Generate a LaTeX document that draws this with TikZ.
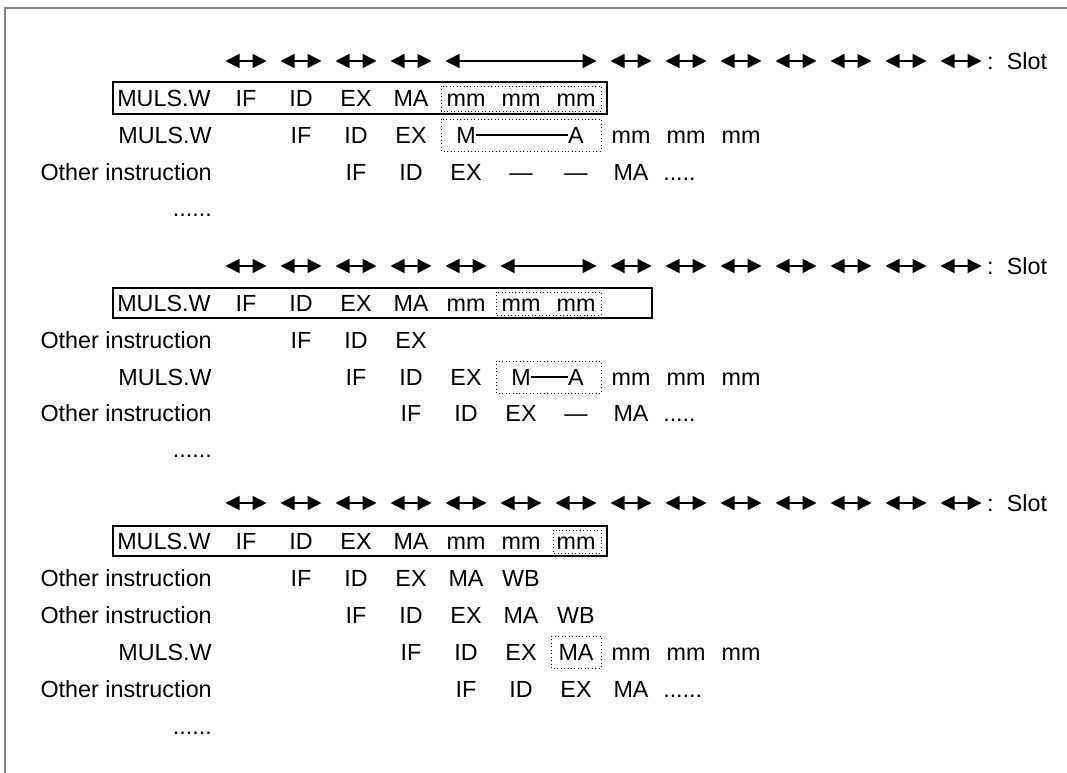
\documentclass[tikz,border=0pt]{standalone}
\usepackage{fontspec}
\setmainfont{Liberation Sans}
\usetikzlibrary{arrows.meta,positioning}
\definecolor{rim}{RGB}{130,130,130}
\newcommand{\slotx}[1]{(246+55*(#1))}
\tikzset{
  stage/.style={inner sep=0pt, text height=12.4pt, text depth=0pt,
                font=\fontsize{17.5}{21}\selectfont},
  insn/.style={stage, anchor=east},
  first/.style={stage, anchor=west},
  slot/.style={{Triangle[length=10.5pt,width=10.5pt]}-{Triangle[length=10.5pt,width=10.5pt]},
               line width=1.1pt},
  runbox/.style={draw, line width=0.8pt},
  waitbox/.style={draw, dotted, line width=0.6pt},
  tie/.style={line width=1.1pt},
  rimline/.style={draw=rim, line width=1.1pt},
}
\begin{document}
\begin{tikzpicture}[x=0.75pt,y=-0.75pt]
\useasboundingbox (0,0) rectangle (1067,773);
\draw[rimline] (5,773) -- (5,8) -- (1067,8);

% first case: three mm cycles
\foreach \a/\b [count=\k] in {0/0,1/1,2/2,3/3,4/6,7/7,8/8,9/9,10/10,11/11,12/12,13/13}{
  \coordinate (pa\k) at ({\slotx{\a}-20.5},61);
  \coordinate (qa\k) at ({\slotx{\b}+20.5},61);
  \draw[slot] (pa\k) -- (qa\k);
}
\node[stage,right=4pt of qa12] (aslot) {:\hspace{10pt}Slot};

\node[first] (a0l) at (117,98) {MULS.W};
\foreach \t/\s in {IF/0,ID/1,EX/2,MA/3,mm/4,mm/5,mm/6}
  \node[stage] (a0-\s) at ({\slotx{\s}},98) {\t};
\draw[waitbox] ({\slotx{4}-25},86) rectangle ({\slotx{6}+25},111);
\draw[runbox] (113,82) rectangle (607,114);

\node[insn] (a1l) at (212,135) {MULS.W};
\foreach \t/\s in {IF/1,ID/2,EX/3,M/4,A/6,mm/7,mm/8,mm/9}
  \node[stage] (a1-\s) at ({\slotx{\s}},135) {\t};
\draw[tie] (a1-4.east) -- (a1-6.west);
\draw[waitbox] ({\slotx{4}-25},119) rectangle ({\slotx{6}+25},151);

\node[insn] (a2l) at (212,172) {Other instruction};
\foreach \t/\s in {IF/2,ID/3,EX/4,—/5,—/6,MA/7}
  \node[stage] (a2-\s) at ({\slotx{\s}},172) {\t};
\node[first] (a2d) at (663,172) {.....};

\node[insn] (a3l) at (212,208) {......};

% second case: two mm cycles
\foreach \a/\b [count=\k] in {0/0,1/1,2/2,3/3,4/4,5/6,7/7,8/8,9/9,10/10,11/11,12/12,13/13}{
  \coordinate (pb\k) at ({\slotx{\a}-20.5},266);
  \coordinate (qb\k) at ({\slotx{\b}+20.5},266);
  \draw[slot] (pb\k) -- (qb\k);
}
\node[stage,right=4pt of qb13] (bslot) {:\hspace{10pt}Slot};

\node[first] (b0l) at (117,303) {MULS.W};
\foreach \t/\s in {IF/0,ID/1,EX/2,MA/3,mm/4,mm/5,mm/6}
  \node[stage] (b0-\s) at ({\slotx{\s}},303) {\t};
\draw[waitbox] ({\slotx{5}-25},292) rectangle ({\slotx{6}+25},315);
\draw[runbox] (113,288) rectangle (652,318);

\node[insn] (b1l) at (212,340) {Other instruction};
\foreach \t/\s in {IF/1,ID/2,EX/3}
  \node[stage] (b1-\s) at ({\slotx{\s}},340) {\t};

\node[insn] (b2l) at (212,377) {MULS.W};
\foreach \t/\s in {IF/2,ID/3,EX/4,M/5,A/6,mm/7,mm/8,mm/9}
  \node[stage] (b2-\s) at ({\slotx{\s}},377) {\t};
\draw[tie] (b2-5.east) -- (b2-6.west);
\draw[waitbox] ({\slotx{5}-25},361) rectangle ({\slotx{6}+25},393);

\node[insn] (b3l) at (212,413) {Other instruction};
\foreach \t/\s in {IF/3,ID/4,EX/5,—/6,MA/7}
  \node[stage] (b3-\s) at ({\slotx{\s}},413) {\t};
\node[first] (b3d) at (663,413) {.....};

\node[insn] (b4l) at (212,449) {......};

% third case: one mm cycle
\foreach \s [count=\k] in {0,...,13}{
  \coordinate (pc\k) at ({\slotx{\s}-20.5},503);
  \coordinate (qc\k) at ({\slotx{\s}+20.5},503);
  \draw[slot] (pc\k) -- (qc\k);
}
\node[stage,right=4pt of qc14] (cslot) {:\hspace{10pt}Slot};

\node[first] (c0l) at (117,541) {MULS.W};
\foreach \t/\s in {IF/0,ID/1,EX/2,MA/3,mm/4,mm/5,mm/6}
  \node[stage] (c0-\s) at ({\slotx{\s}},541) {\t};
\draw[waitbox] ({\slotx{6}-23},530) rectangle ({\slotx{6}+25},553);
\draw[runbox] (113,526) rectangle (607,556);

\node[insn] (c1l) at (212,578) {Other instruction};
\foreach \t/\s in {IF/1,ID/2,EX/3,MA/4,WB/5}
  \node[stage] (c1-\s) at ({\slotx{\s}},578) {\t};

\node[insn] (c2l) at (212,615) {Other instruction};
\foreach \t/\s in {IF/2,ID/3,EX/4,MA/5,WB/6}
  \node[stage] (c2-\s) at ({\slotx{\s}},615) {\t};

\node[insn] (c3l) at (212,652) {MULS.W};
\foreach \t/\s in {IF/3,ID/4,EX/5,MA/6,mm/7,mm/8,mm/9}
  \node[stage] (c3-\s) at ({\slotx{\s}},652) {\t};
\draw[waitbox] ({\slotx{6}-25},636) rectangle ({\slotx{6}+25},668);

\node[insn] (c4l) at (212,689) {Other instruction};
\foreach \t/\s in {IF/4,ID/5,EX/6,MA/7}
  \node[stage] (c4-\s) at ({\slotx{\s}},689) {\t};
\node[first] (c4d) at (663,689) {......};

\node[insn] (c5l) at (212,726) {......};
\end{tikzpicture}
\end{document}
